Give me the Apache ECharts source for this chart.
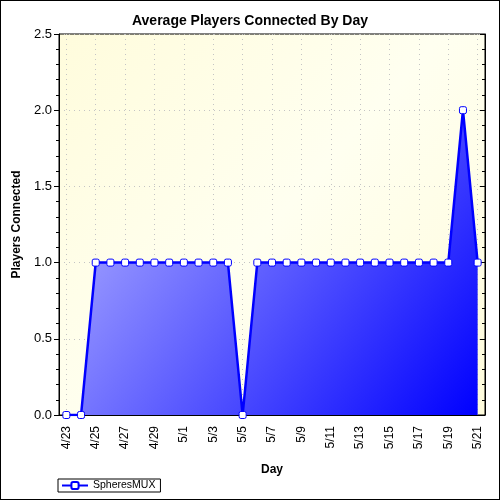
<!DOCTYPE html>
<html><head><meta charset="utf-8">
<script src="https://cdn.jsdelivr.net/npm/echarts@6/dist/echarts.min.js"></script>
<style>html,body{margin:0;padding:0;background:#fff}#c{width:498px;height:498px;border:1px solid #000}</style>
</head><body><div id="c"></div>
<script>
const categories = ['4/23','4/24','4/25','4/26','4/27','4/28','4/29','4/30','5/1','5/2','5/3','5/4','5/5','5/6','5/7','5/8','5/9','5/10','5/11','5/12','5/13','5/14','5/15','5/16','5/17','5/18','5/19','5/20','5/21'];
const values = [0,0,1,1,1,1,1,1,1,1,1,1,0,1,1,1,1,1,1,1,1,1,1,1,1,1,1,2,1];
const seriesName = 'SpheresMUX';
const yTicks = [0, 0.5, 1.0, 1.5, 2.0, 2.5];
const gridDays = categories.filter((_, i) => i % 2 === 0);

const chart = echarts.init(document.getElementById('c'));
const font = 'Liberation Sans, Arial, sans-serif';
chart.setOption({
  animation: false,
  title: { text: 'Average Players Connected By Day', left: 'center', top: 8,
    textStyle: { fontSize: 14, fontWeight: 'bold', color: '#000', fontFamily: font } },
  legend: { left: 57, top: 478, itemWidth: 26, itemHeight: 9, itemGap: 6, padding: [1, 5, 1, 3],
    borderColor: '#000', borderWidth: 1, borderRadius: 0,
    textStyle: { fontSize: 10.5, color: '#000', fontFamily: font }, data: [seriesName] },
  grid: { left: 58, right: 14, top: 33, bottom: 84, show: true, borderColor: '#000', borderWidth: 1,
    containLabel: false, outerBoundsMode: 'none',
    backgroundColor: new echarts.graphic.LinearGradient(0, 0, 1, 1, [
      { offset: 0, color: '#fffcdc' }, { offset: 0.5, color: '#fffff0' }, { offset: 1, color: '#fffcdc' }]) },
  xAxis: [
    { type: 'category', data: categories, boundaryGap: true, position: 'bottom',
      name: 'Day', nameLocation: 'middle', nameGap: 49,
      nameTextStyle: { fontSize: 12, fontWeight: 'bold', color: '#000', fontFamily: font },
      axisLine: { lineStyle: { color: '#000', width: 1 } },
      axisTick: { alignWithLabel: true, interval: 1, length: 5, lineStyle: { color: '#000' } },
      axisLabel: { interval: 1, rotate: 90, fontSize: 12, color: '#000', fontFamily: font, margin: 11 },
      splitLine: { show: false } },
    { type: 'category', data: categories, boundaryGap: true, position: 'bottom', gridIndex: 0,
      axisLine: { show: false }, axisLabel: { show: false }, splitLine: { show: false },
      axisTick: { alignWithLabel: true, interval: 0, length: 3, lineStyle: { color: '#000' } } },
    { type: 'category', data: categories, boundaryGap: true, position: 'top', gridIndex: 0,
      axisLine: { show: false }, axisLabel: { show: false }, splitLine: { show: false },
      axisTick: { alignWithLabel: true, interval: 1, inside: true, length: 4, lineStyle: { color: '#000' } } }
  ],
  yAxis: [
    { type: 'value', min: 0, max: 2.5, interval: 0.5,
      name: 'Players Connected', nameLocation: 'middle', nameGap: 36,
      nameTextStyle: { fontSize: 12, fontWeight: 'bold', color: '#000', fontFamily: font },
      axisLine: { show: true, lineStyle: { color: '#000' } },
      axisTick: { show: true, length: 5, lineStyle: { color: '#000' } },
      minorTick: { show: true, splitNumber: 5, length: 3, lineStyle: { color: '#000' } },
      axisLabel: { fontSize: 13, color: '#000', fontFamily: font, margin: 7,
        formatter: v => yTicks.includes(v) ? v.toFixed(1) : '' },
      splitLine: { show: true, lineStyle: { color: '#c4c4c4', type: [1, 4] } } },
    { type: 'value', min: 0, max: 2.5, interval: 0.5, position: 'right',
      axisLine: { show: true, lineStyle: { color: '#000' } },
      axisTick: { show: true, inside: true, length: 5, lineStyle: { color: '#000' } },
      minorTick: { show: true, splitNumber: 5, length: 3, lineStyle: { color: '#000' } },
      axisLabel: { show: false }, splitLine: { show: false } }
  ],
  series: [
    { name: 'grid', type: 'line', data: [], z: 1, silent: true, xAxisIndex: 0, yAxisIndex: 0,
      markLine: { silent: true, symbol: 'none', z: 0, label: { show: false },
        lineStyle: { color: '#c4c4c4', type: [1, 4], width: 1 },
        data: gridDays.map(d => ({ xAxis: d })) } },
    { name: seriesName, type: 'line', data: values, xAxisIndex: 0, yAxisIndex: 0, z: 3,
      symbol: 'roundRect', symbolSize: 7, showAllSymbol: true,
      lineStyle: { color: '#0000ff', width: 2.5 },
      itemStyle: { color: '#ffffff', borderColor: '#0000ff', borderWidth: 1 },
      areaStyle: { opacity: 1, color: new echarts.graphic.LinearGradient(0, 0, 1, 1, [
        { offset: 0, color: '#bcbcff' }, { offset: 1, color: '#0000ff' }]) } }
  ]
});
</script></body></html>
